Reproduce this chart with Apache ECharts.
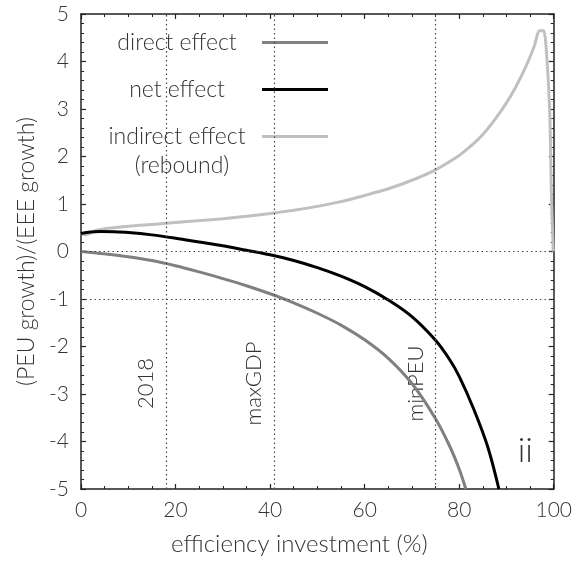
<!DOCTYPE html>
<html>
<head>
<meta charset="utf-8">
<script src="https://cdn.jsdelivr.net/npm/echarts@6/dist/echarts.min.js"></script>
<style>
  html, body { margin: 0; padding: 0; background: #fff; }
  #chart { width: 575px; height: 565px; }
</style>
</head>
<body>
<div id="chart"></div>
<script>
// values
const directX = [0, 5, 10, 15, 20, 25, 30, 35, 40, 45, 50, 55, 60, 65, 70, 75, 78, 80, 81.4];
const directY = [0, -0.05, -0.11, -0.19, -0.3, -0.43, -0.57, -0.72, -0.89, -1.08, -1.3, -1.55, -1.86, -2.25, -2.78, -3.52, -4.1, -4.58, -5];

const netX = [0, 2, 4, 7, 10, 15, 20, 25, 30, 35, 40, 45, 50, 55, 60, 65, 70, 75, 78, 80, 83, 86, 88.4];
const netY = [0.38, 0.41, 0.42, 0.415, 0.4, 0.35, 0.28, 0.2, 0.12, 0.025, -0.07, -0.19, -0.34, -0.52, -0.74, -1.02, -1.37, -1.87, -2.28, -2.63, -3.3, -4.1, -5];

const indirectX = [0, 1, 3, 5, 10, 15, 20, 25, 30, 35, 40, 45, 50, 55, 60, 65, 70, 75, 80, 82, 84, 86, 88, 90, 92, 94, 95, 96, 96.9, 97.9, 98.6, 99.2, 99.5, 99.9];
const indirectY = [0.38, 0.35, 0.44, 0.48, 0.53, 0.57, 0.61, 0.65, 0.69, 0.74, 0.8, 0.87, 0.95, 1.05, 1.18, 1.32, 1.5, 1.72, 2.02, 2.18, 2.36, 2.58, 2.84, 3.13, 3.47, 3.87, 4.1, 4.36, 4.65, 4.65, 4.0, 2.8, 1.2, 0];

const seriesNames = ['direct effect', 'net effect', 'indirect effect'];
const seriesColors = ['#808080', '#000000', '#c0c0c0'];

const markerNames = ['2018', 'maxGDP', 'minPEU'];
const markerX = [18, 40.8, 75];
const guideY = [0, -1];

const xTicks = [0, 20, 40, 60, 80, 100];
const yTicks = [-5, -4, -3, -2, -1, 0, 1, 2, 3, 4, 5];

const FONT = 'Lato';
const TEXT = '#333';
const LEGEND_FONT = '300 23px ' + FONT;

function pairs(xs, ys) {
  return xs.map((x, i) => [x, ys[i]]);
}

// legend texts are centred in a column left of the key lines
const measureCtx = document.createElement('canvas').getContext('2d');
function textWidth(text, font) {
  measureCtx.font = font;
  return measureCtx.measureText(text).width;
}
const legendCenter = 182;
const keyLeft = 267;

const chart = echarts.init(document.getElementById('chart'), null, { renderer: 'canvas' });

const axisCommon = {
  type: 'value',
  axisLine: { show: true, onZero: false, lineStyle: { color: '#222', width: 1.5 } },
  axisTick: { show: true, inside: true, length: 5, lineStyle: { color: '#222', width: 1.2 } },
  minorTick: { show: true, length: 3, lineStyle: { color: '#222', width: 1 } },
  splitLine: { show: false }
};

function lineSeries(i, xs, ys, extra) {
  return Object.assign({
    name: seriesNames[i],
    type: 'line',
    symbol: 'none',
    smooth: 0.35,
    clip: true,
    lineStyle: { color: seriesColors[i], width: 3 },
    itemStyle: { color: seriesColors[i] },
    data: pairs(xs, ys)
  }, extra || {});
}

chart.setOption({
  animation: false,
  backgroundColor: '#fff',
  textStyle: { fontFamily: FONT, color: TEXT },
  grid: { left: 81, top: 14, right: 18, bottom: 76, containLabel: false },
  xAxis: [
    Object.assign({}, axisCommon, {
      position: 'bottom',
      min: xTicks[0], max: xTicks[xTicks.length - 1], interval: 20,
      minorTick: Object.assign({}, axisCommon.minorTick, { splitNumber: 4 }),
      axisLabel: { fontSize: 21, color: TEXT, margin: 11, fontFamily: FONT, fontWeight: 300 },
      name: 'efficiency investment (%)',
      nameLocation: 'middle',
      nameGap: 43,
      nameTextStyle: { fontSize: 24, color: TEXT, fontFamily: FONT, fontWeight: 300, padding: [0, 36, 0, 0] }
    }),
    Object.assign({}, axisCommon, {
      position: 'top',
      min: xTicks[0], max: xTicks[xTicks.length - 1], interval: 20,
      minorTick: Object.assign({}, axisCommon.minorTick, { splitNumber: 4 }),
      axisLabel: { show: false }
    })
  ],
  yAxis: [
    Object.assign({}, axisCommon, {
      position: 'left',
      min: yTicks[0], max: yTicks[yTicks.length - 1], interval: 1,
      minorTick: Object.assign({}, axisCommon.minorTick, { splitNumber: 5 }),
      axisLabel: { fontSize: 21, color: TEXT, margin: 12, fontFamily: FONT, fontWeight: 300 },
      name: '(PEU growth)/(EEE growth)',
      nameLocation: 'middle',
      nameGap: 41,
      nameTextStyle: { fontSize: 23, color: TEXT, fontFamily: FONT, fontWeight: 300 }
    }),
    Object.assign({}, axisCommon, {
      position: 'right',
      min: yTicks[0], max: yTicks[yTicks.length - 1], interval: 1,
      minorTick: Object.assign({}, axisCommon.minorTick, { splitNumber: 5 }),
      axisLabel: { show: false }
    })
  ],
  legend: {
    orient: 'vertical',
    align: 'right',
    right: 575 - 333,
    top: 25,
    icon: 'rect',
    itemWidth: 66,
    itemHeight: 3,
    itemGap: 22,
    textStyle: { fontSize: 23, color: TEXT, fontFamily: FONT, fontWeight: 300, lineHeight: 25 },
    selectedMode: false,
    data: seriesNames.map(name => ({
      name: name,
      textStyle: {
        padding: [0, Math.max(0, keyLeft - 5 - (legendCenter + textWidth(name, LEGEND_FONT) / 2)), 0, 0]
      }
    }))
  },
  series: [
    lineSeries(0, directX, directY, { z: 3 }),
    lineSeries(1, netX, netY, { z: 4 }),
    lineSeries(2, indirectX, indirectY, {
      z: 3,
      smooth: 0.2,
      markLine: {
        silent: true,
        symbol: 'none',
        animation: false,
        label: { show: false },
        lineStyle: { color: '#444', type: [1.5, 3], width: 1.2 },
        data: markerX.map(x => ({ xAxis: x })).concat(guideY.map(y => ({ yAxis: y })))
      }
    })
  ]
});

// annotation texts placed through the axis scales
const annotations = markerNames.map((name, i) => {
  const p = chart.convertToPixel({ gridIndex: 0 }, [markerX[i], -2.78]);
  return {
    type: 'text',
    x: p[0] - 20,
    y: p[1],
    rotation: Math.PI / 2,
    style: { text: name, font: '300 22px ' + FONT, fill: TEXT, align: 'center', verticalAlign: 'middle' }
  };
});
const iiPos = chart.convertToPixel({ gridIndex: 0 }, [94, -4.2]);
annotations.push({
  type: 'text',
  x: iiPos[0],
  y: iiPos[1],
  style: { text: 'ii', font: '300 34px ' + FONT, fill: TEXT, align: 'center', verticalAlign: 'middle' }
});
annotations.push({
  type: 'text',
  x: legendCenter,
  y: 166,
  style: { text: '(rebound)', font: LEGEND_FONT, fill: TEXT, align: 'center', verticalAlign: 'middle' }
});
chart.setOption({ graphic: annotations });
</script>
</body>
</html>
